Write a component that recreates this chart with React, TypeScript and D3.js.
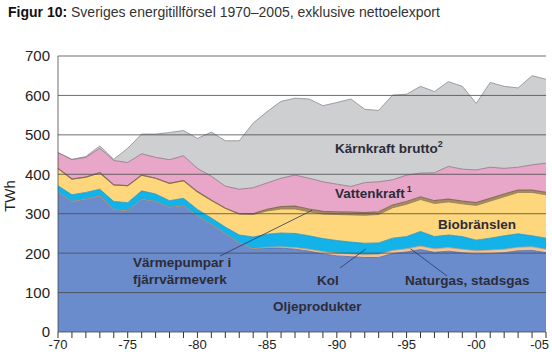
import React from "react";
import * as d3 from "d3";

const years = [
  1970, 1971, 1972, 1973, 1974, 1975, 1976, 1977, 1978, 1979, 1980, 1981,
  1982, 1983, 1984, 1985, 1986, 1987, 1988, 1989, 1990, 1991, 1992, 1993,
  1994, 1995, 1996, 1997, 1998, 1999, 2000, 2001, 2002, 2003, 2004, 2005,
];

// TWh per year
const oil = [354, 331, 337, 345, 311, 307, 337, 331, 316, 320, 294, 273, 249, 226, 211, 213, 213, 210, 205, 198, 193, 191, 189, 189, 199, 203, 209, 202, 205, 201, 198, 199, 201, 206, 207, 201];
const gas = [0, 0, 0, 0, 0, 0, 0, 0, 0, 0, 0, 0, 0, 0, 0, 2, 3, 4, 5, 6, 7, 7, 7, 8, 8, 8, 9, 9, 9, 9, 8, 9, 9, 9, 9, 9];
const coal = [17, 17, 17, 17, 20, 21, 21, 19, 17, 19, 17, 16, 17, 20, 30, 33, 35, 36, 34, 33, 32, 30, 29, 29, 31, 31, 37, 31, 32, 32, 27, 30, 34, 34, 28, 28];
const bio = [44, 40, 39, 42, 42, 43, 40, 40, 44, 45, 45, 45, 48, 53, 57, 59, 61, 62, 61, 62, 66, 69, 71, 72, 77, 82, 81, 84, 84, 83, 88, 94, 99, 105, 110, 110];
const heatPumps = [0, 0, 0, 0, 0, 0, 0, 0, 0, 0, 0, 0, 0, 1, 2, 4, 6, 7, 7, 7, 7, 7, 7, 7, 7, 7, 7, 7, 7, 7, 7, 7, 7, 6, 6, 6];
const hydro = [40, 49, 50, 62, 62, 59, 54, 53, 60, 63, 59, 61, 56, 62, 66, 67, 72, 79, 78, 75, 70, 65, 76, 76, 64, 67, 60, 71, 83, 81, 83, 79, 65, 58, 64, 74];
const nuclear = [0, 1, 2, 6, 3, 36, 50, 59, 69, 64, 76, 112, 115, 123, 164, 181, 195, 195, 201, 193, 207, 222, 186, 181, 215, 205, 220, 206, 215, 210, 169, 215, 208, 201, 226, 213];

const yTicks = [0, 100, 200, 300, 400, 500, 600, 700];
const xLabels = [1970, 1975, 1980, 1985, 1990, 1995, 2000, 2005];

const keys = ["oil", "gas", "coal", "bio", "heat", "hydro", "nuclear"];
const fills: Record<string, string> = {
  oil: "#6a8bcc",
  gas: "#f3c59c",
  coal: "#13b3ea",
  bio: "#fed77d",
  heat: "#a88c62",
  hydro: "#e8a6c8",
  nuclear: "#cecfd1",
};
const strokes: Record<string, string> = {
  oil: "#4b6aa6",
  gas: "#c79a70",
  coal: "#1a93c4",
  bio: "#96784a",
  heat: "#8a6f58",
  hydro: "#8d7480",
  nuclear: "#8c8c8e",
};

const width = 552;
const height = 354;
const left = 58;
const right = 546;
const top = 56;
const bottom = 332;

const font = "'Liberation Sans', Arial, Helvetica, sans-serif";
const textColor = "#2c2c38";

export default function App() {
  const table = years.map((year, i) => ({
    year,
    oil: oil[i],
    gas: gas[i],
    coal: coal[i],
    bio: bio[i],
    heat: heatPumps[i],
    hydro: hydro[i],
    nuclear: nuclear[i],
  }));

  const series = d3.stack<any>().keys(keys)(table);

  const x = d3.scaleLinear().domain([1970, 2005]).range([left, right]);
  const y = d3.scaleLinear().domain([0, 700]).range([bottom, top]);

  const area = d3
    .area<any>()
    .x((d) => x(d.data.year))
    .y0((d) => y(d[0]))
    .y1((d) => y(d[1]));
  const topLine = d3
    .line<any>()
    .x((d) => x(d.data.year))
    .y((d) => y(d[1]));

  const at = (yr: number, key: string) => {
    const s = series.find((s) => s.key === key)!;
    return s[years.indexOf(yr)];
  };

  const fmt = (yr: number) => "-" + String(yr % 100).padStart(2, "0");

  // leader line end points sit on the bands
  const hp = at(1988, "heat");
  const kol = at(1992, "coal");
  const ng = at(1995, "gas");

  return (
    <svg
      width={width}
      height={height}
      style={{ position: "absolute", left: 0, top: 0, background: "#fff" }}
      fontFamily={font}
    >
      <text x={8} y={17} fontSize={14} fill="#333">
        <tspan fontWeight="bold" fill="#111">Figur 10:</tspan>
        <tspan> Sveriges energitillförsel 1970–2005, exklusive nettoelexport</tspan>
      </text>

      {series.map((s) => (
        <path key={s.key} d={area(s) || ""} fill={fills[s.key]} />
      ))}
      {series.map((s) => (
        <path
          key={s.key + "-l"}
          d={topLine(s) || ""}
          fill="none"
          stroke={strokes[s.key]}
          strokeWidth={s.key === "heat" ? 1.2 : 0.8}
        />
      ))}

      {yTicks.map((t) => (
        <g key={t}>
          <line x1={left} x2={right} y1={y(t)} y2={y(t)} stroke="#4a4a4a" strokeWidth={0.8} />
          <text x={50} y={y(t)} dy="0.36em" textAnchor="end" fontSize={15} fill="#222">
            {t}
          </text>
        </g>
      ))}
      <line x1={left} x2={left} y1={y(0)} y2={y(700)} stroke="#4a4a4a" strokeWidth={0.8} />

      {years.map((yr) => (
        <line key={yr} x1={x(yr)} x2={x(yr)} y1={bottom} y2={bottom + 6} stroke="#333" strokeWidth={1} />
      ))}
      {xLabels.map((yr) => (
        <text
          key={yr}
          x={yr === 2005 ? width - 3 : x(yr)}
          y={349}
          textAnchor={yr === 2005 ? "end" : "middle"}
          fontSize={13}
          fill="#222"
        >
          {fmt(yr)}
        </text>
      ))}

      <text
        transform={`translate(15,${y(345)}) rotate(-90)`}
        textAnchor="middle"
        fontSize={15}
        fill="#222"
      >
        TWh
      </text>

      <g stroke="#2b3a66" strokeWidth={0.8}>
        <line x1={220} y1={256} x2={x(1988) + 3} y2={y((hp[0] + hp[1]) / 2)} />
        <line x1={340} y1={268} x2={x(1992) + 1} y2={y((kol[0] + kol[1]) / 2)} />
        <line x1={447} y1={276} x2={x(1995) + 4} y2={y(ng[1])} />
      </g>

      <g fontSize={13.5} fontWeight="bold" fill={textColor}>
        <text x={335} y={153}>
          Kärnkraft brutto
          <tspan fontSize={9} dy={-6}>2</tspan>
        </text>
        <text x={335} y={198}>
          Vattenkraft
          <tspan fontSize={9} dy={-6} dx={2}>1</tspan>
        </text>
        <text x={438} y={229}>Biobränslen</text>
        <text x={133} y={267}>Värmepumpar i</text>
        <text x={133} y={284}>fjärrvärmeverk</text>
        <text x={317} y={285}>Kol</text>
        <text x={405} y={285}>Naturgas, stadsgas</text>
        <text x={273} y={311}>Oljeprodukter</text>
      </g>
    </svg>
  );
}
